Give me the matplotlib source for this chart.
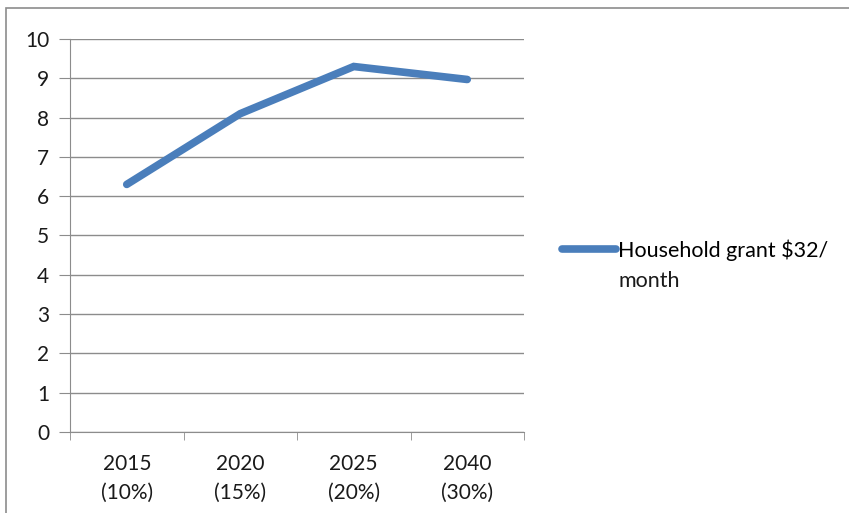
import matplotlib.pyplot as plt
from matplotlib.patches import Rectangle

# data
years = ["2015\n(10%)", "2020\n(15%)", "2025\n(20%)", "2040\n(30%)"]
values = [6.3, 8.1, 9.3, 8.97]
series_name = "Household grant $32/"
series_name_cont = "month"

plt.rcParams["font.family"] = ["Lato", "DejaVu Sans"]

fig = plt.figure(figsize=(8.49, 5.13), dpi=100)
ax = fig.add_axes([70 / 849, 81 / 513, 454 / 849, 393 / 513])

# outer chart frame
fig.patches.append(Rectangle((6 / 849, -0.05), 1.0, (505 / 513) + 0.05,
                             transform=fig.transFigure, fill=False,
                             edgecolor="#8c8c8c", linewidth=1.2))

x = list(range(len(years)))
ax.plot(x, values, color="#4a7ebb", linewidth=5.5, solid_capstyle="round",
        solid_joinstyle="miter", label=series_name, zorder=3)

ax.set_xlim(-0.5, len(years) - 0.5)
ax.set_ylim(0, 10)
ax.set_yticks(range(0, 11))
ax.yaxis.grid(True, color="#8c8c8c", linewidth=1)
ax.set_axisbelow(True)

ax.set_xticks(x)
ax.set_xticklabels(years, fontsize=15, color="#1a1a1a", linespacing=1.55)
ax.set_xticks([i - 0.5 for i in range(len(years) + 1)], minor=True)
ax.tick_params(axis="x", which="major", length=0, pad=16)
ax.tick_params(axis="x", which="minor", length=6, color="#8c8c8c", direction="out")
ax.tick_params(axis="y", length=8, color="#8c8c8c", direction="out",
               labelsize=15, labelcolor="#1a1a1a", pad=7)

for side in ["top", "right"]:
    ax.spines[side].set_visible(False)
for side in ["left", "bottom"]:
    ax.spines[side].set_color("#8c8c8c")

ax.legend(loc="center left", bbox_to_anchor=(562 / 849, 1 - 250 / 513),
          bbox_transform=fig.transFigure, frameon=False, fontsize=15.5,
          handlelength=2.5, handletextpad=0.12, borderaxespad=0, borderpad=0)
fig.text(618 / 849, 1 - 281 / 513, series_name_cont, fontsize=15.5,
         color="#1a1a1a", ha="left", va="center")

fig.savefig("out.png", dpi=100)
